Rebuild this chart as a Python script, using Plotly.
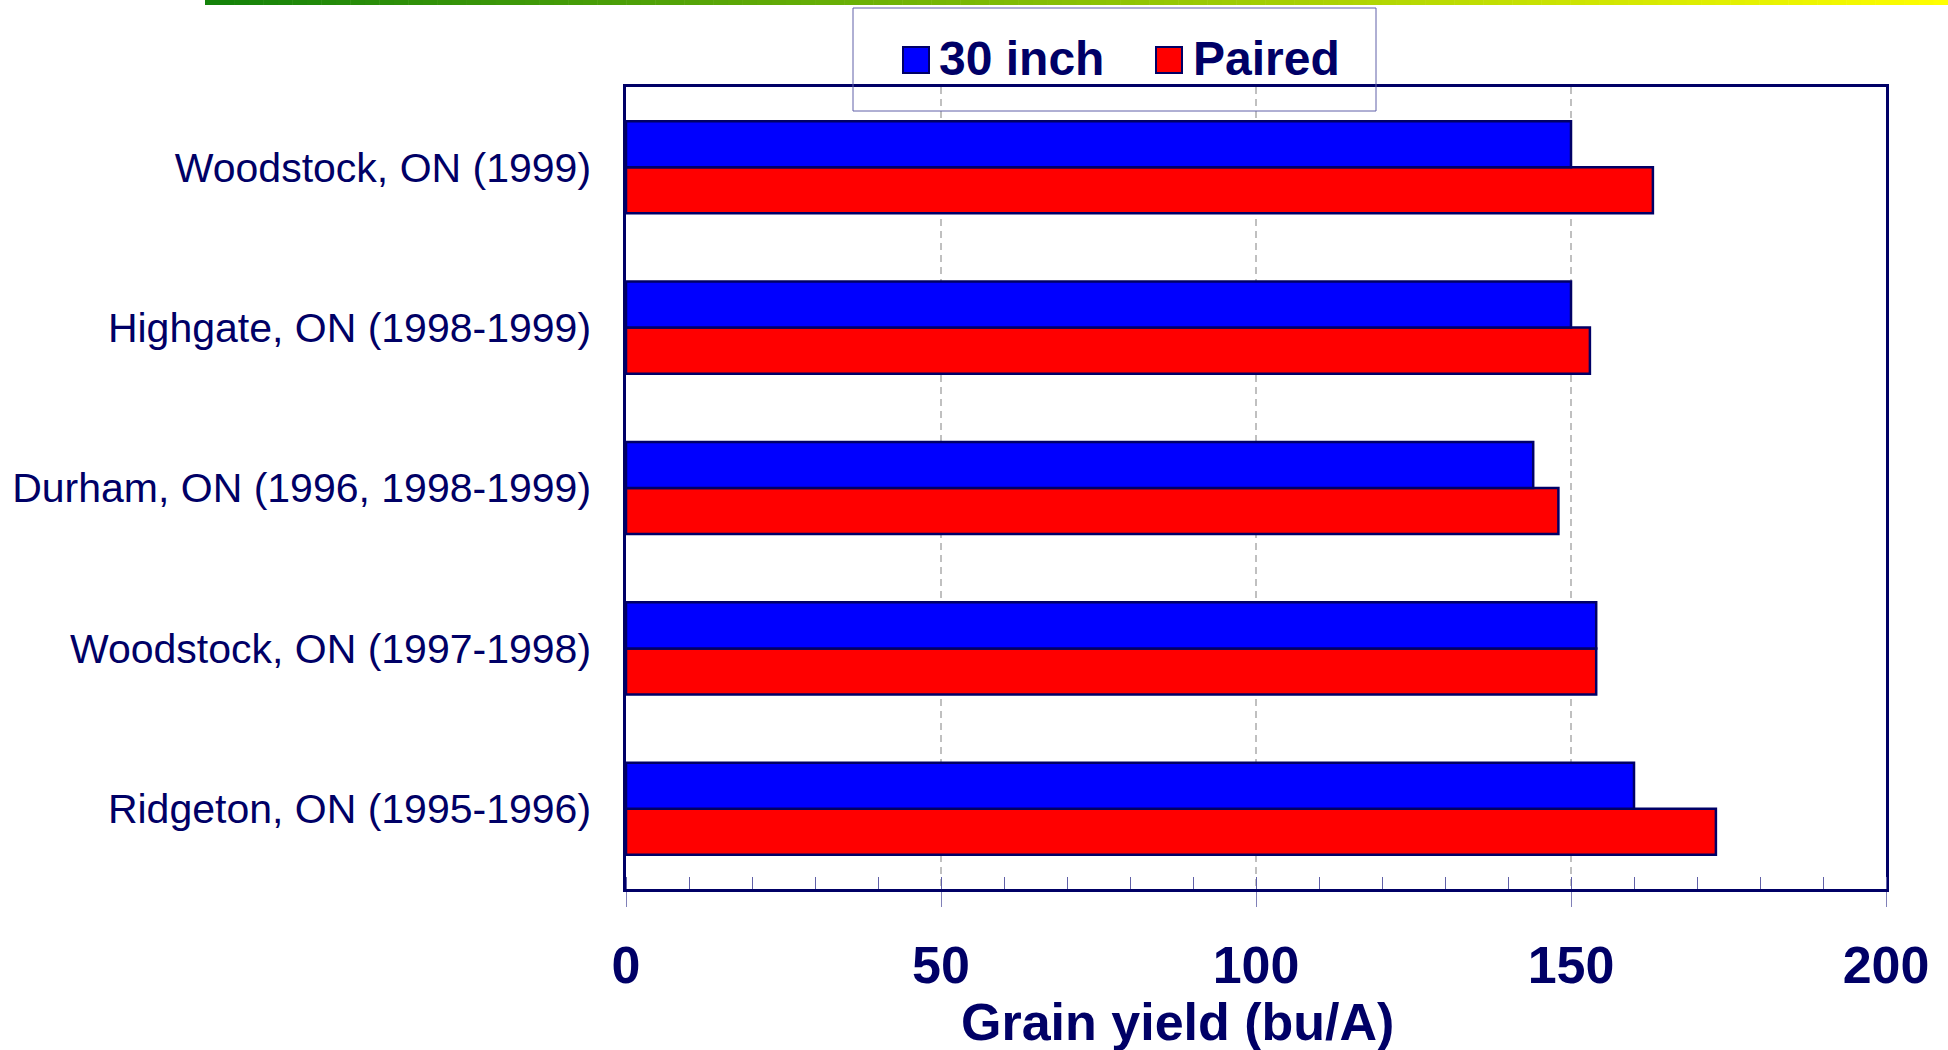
import plotly.graph_objects as go

categories = [
    "Woodstock, ON (1999)",
    "Highgate, ON (1998-1999)",
    "Durham, ON (1996, 1998-1999)",
    "Woodstock, ON (1997-1998)",
    "Ridgeton, ON (1995-1996)",
]
inch30 = [150, 150, 144, 154, 160]
paired = [163, 153, 148, 154, 173]
series_names = ["30 inch", "Paired"]
x_ticks = [0, 50, 100, 150, 200]
x_title = "Grain yield (bu/A)"

NAVY = "#000066"
FONT = "Arial, Liberation Sans, sans-serif"

fig = go.Figure()
# red first so that it sits below blue in each group (axis not reversed)
fig.add_trace(go.Bar(
    y=categories, x=paired, name=series_names[1], orientation="h",
    marker=dict(color="#ff0000", line=dict(color=NAVY, width=2.5)),
    showlegend=False,
))
fig.add_trace(go.Bar(
    y=categories, x=inch30, name=series_names[0], orientation="h",
    marker=dict(color="#0000ff", line=dict(color=NAVY, width=2.5)),
    showlegend=False,
))

L, R, T, B = 626, 1886, 87, 889
W, H = 1948, 1050
def px(xp):
    return (xp - L) / (R - L)
def py(yp):
    return (B - yp) / (B - T)

shapes = []
# top gradient strip
n = 120
x0, x1 = 205, W
for i in range(n):
    f = i / (n - 1)
    r = int(20 + (255 - 20) * f)
    g = int(130 + (255 - 130) * f)
    b = int(10 + (0 - 10) * f)
    xa = x0 + (x1 - x0) * i / n
    xb = x0 + (x1 - x0) * (i + 1) / n + 0.5
    shapes.append(dict(type="rect", xref="paper", yref="paper",
                       x0=px(xa), x1=px(xb), y0=py(5), y1=py(0),
                       line=dict(width=0), fillcolor=f"rgb({r},{g},{b})", layer="above"))
# legend box
shapes.append(dict(type="rect", xref="paper", yref="paper",
                   x0=px(853), x1=px(1376), y0=py(111), y1=py(8),
                   line=dict(color="#6060a8", width=1), fillcolor="rgba(0,0,0,0)", layer="above"))
# legend swatches
shapes.append(dict(type="rect", xref="paper", yref="paper",
                   x0=px(903), x1=px(929), y0=py(73), y1=py(47),
                   line=dict(color=NAVY, width=2), fillcolor="#0000ff", layer="above"))
shapes.append(dict(type="rect", xref="paper", yref="paper",
                   x0=px(1156), x1=px(1182), y0=py(73), y1=py(47),
                   line=dict(color=NAVY, width=2), fillcolor="#ff0000", layer="above"))

annotations = [
    dict(text=series_names[0], xref="paper", yref="paper", x=px(937), y=py(59),
         xanchor="left", yanchor="middle", showarrow=False,
         font=dict(family=FONT, size=48, color=NAVY, weight="bold")),
    dict(text=series_names[1], xref="paper", yref="paper", x=px(1191), y=py(59),
         xanchor="left", yanchor="middle", showarrow=False,
         font=dict(family=FONT, size=48, color=NAVY, weight="bold")),
    dict(text=x_title, xref="paper", yref="paper", x=px(1177), y=py(1022),
         xanchor="center", yanchor="middle", showarrow=False,
         font=dict(family=FONT, size=52, color=NAVY, weight="bold")),
]

fig.update_layout(
    width=W, height=H,
    margin=dict(l=L, r=W - R, t=T, b=H - B, pad=0, autoexpand=False),
    paper_bgcolor="white", plot_bgcolor="white",
    barmode="group", bargap=0.426, bargroupgap=0,
    showlegend=False,
    shapes=shapes, annotations=annotations,
    font=dict(family=FONT, color=NAVY),
)
fig.update_xaxes(
    automargin=False,
    range=[0, 200], tickvals=x_ticks, ticktext=[str(v) for v in x_ticks],
    ticks="outside", ticklen=15, tickwidth=1, tickcolor="#8080b8",
    tickfont=dict(family=FONT, size=52, color=NAVY, weight="bold"),
    ticklabelstandoff=14,
    showline=True, linecolor=NAVY, linewidth=2.5, mirror=True,
    showgrid=True, gridcolor="#c0c0c0", gridwidth=2, griddash="7px,5px",
    zeroline=False,
    minor=dict(dtick=10, ticks="inside", ticklen=12, tickwidth=1, tickcolor="#6060a8", showgrid=False),
)
fig.update_yaxes(
    automargin=False,
    categoryorder="array", categoryarray=list(reversed(categories)),
    showline=True, linecolor=NAVY, linewidth=2.5, mirror=True,
    ticks="", showgrid=False, zeroline=False,
    tickfont=dict(family=FONT, size=41, color=NAVY),
    ticklabelstandoff=24,
)

fig.write_html("out.html")
